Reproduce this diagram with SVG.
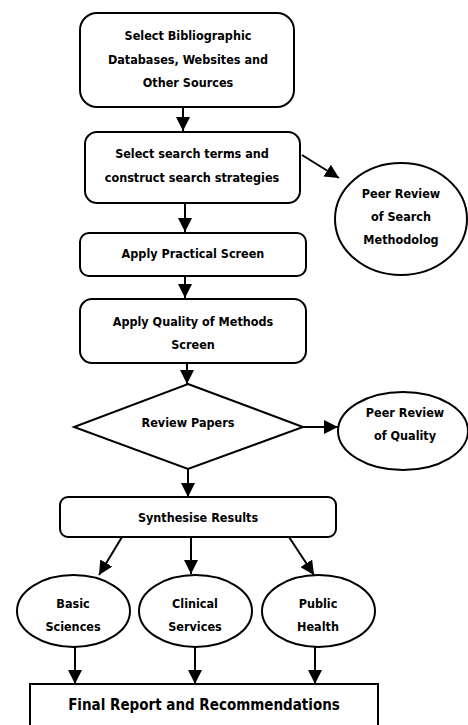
<svg xmlns="http://www.w3.org/2000/svg" width="468" height="725" viewBox="0 0 468 725">
<defs>
<marker id="ah" viewBox="0 0 10 10" refX="10" refY="5" markerWidth="7" markerHeight="7" markerUnits="strokeWidth" orient="auto">
<path d="M0,0 L10,5 L0,10 Z" fill="#000"/>
</marker>
<style>
.s{fill:#fff;stroke:#000;stroke-width:2}
.t{font-family:"DejaVu Sans Condensed","DejaVu Sans",sans-serif;font-weight:bold;font-size:12.5px;text-anchor:middle;fill:#000}
.f{font-family:"DejaVu Sans Condensed","DejaVu Sans",sans-serif;font-weight:bold;font-size:15px;text-anchor:middle;fill:#000}
.c{fill:none;stroke:#000;stroke-width:2;marker-end:url(#ah)}
</style>
</defs>
<rect width="468" height="725" fill="#fff"/>
<g id="connectors">
<line class="c" x1="183" y1="107" x2="183" y2="131"/>
<line class="c" x1="302" y1="155" x2="339" y2="178"/>
<line class="c" x1="185" y1="203" x2="185" y2="232"/>
<line class="c" x1="185" y1="276" x2="185" y2="298"/>
<line class="c" x1="187" y1="363" x2="187" y2="384"/>
<line class="c" x1="303" y1="427" x2="338" y2="427"/>
<line class="c" x1="188" y1="469" x2="188" y2="497"/>
<line class="c" x1="122" y1="537" x2="99" y2="575"/>
<line class="c" x1="191" y1="537" x2="191" y2="574"/>
<line class="c" x1="289" y1="537" x2="314" y2="575"/>
<line class="c" x1="75" y1="647" x2="75" y2="684"/>
<line class="c" x1="195" y1="647" x2="195" y2="684"/>
<line class="c" x1="315" y1="647" x2="315" y2="684"/>
</g>
<g id="n1">
<rect class="s" x="80" y="13" width="214" height="94" rx="17"/>
<text class="t" x="188" y="40">Select Bibliographic</text>
<text class="t" x="188" y="64">Databases, Websites and</text>
<text class="t" x="188" y="87">Other Sources</text>
</g>
<g id="n2">
<rect class="s" x="85" y="132" width="215" height="71" rx="12"/>
<text class="t" x="192" y="158">Select search terms and</text>
<text class="t" x="192" y="182">construct search strategies</text>
</g>
<g id="n3">
<ellipse class="s" cx="401" cy="219" rx="66" ry="56"/>
<text class="t" x="401" y="198">Peer Review</text>
<text class="t" x="401" y="221">of Search</text>
<text class="t" x="401" y="244">Methodolog</text>
</g>
<g id="n4">
<rect class="s" x="80" y="233" width="226" height="43" rx="9"/>
<text class="t" x="193" y="258">Apply Practical Screen</text>
</g>
<g id="n5">
<rect class="s" x="80" y="299" width="226" height="64" rx="12"/>
<text class="t" x="193" y="326">Apply Quality of Methods</text>
<text class="t" x="193" y="349">Screen</text>
</g>
<g id="n6">
<polygon class="s" points="188,384 303,427 188,469 74,427"/>
<text class="t" x="188" y="427">Review Papers</text>
</g>
<g id="n7">
<ellipse class="s" cx="403" cy="431" rx="65" ry="39"/>
<text class="t" x="405" y="417">Peer Review</text>
<text class="t" x="405" y="440">of Quality</text>
</g>
<g id="n8">
<rect class="s" x="60" y="497" width="276" height="40" rx="8"/>
<text class="t" x="198" y="522">Synthesise Results</text>
</g>
<g id="n9">
<ellipse class="s" cx="73.5" cy="611" rx="56.5" ry="36"/>
<text class="t" x="73" y="608">Basic</text>
<text class="t" x="73" y="631">Sciences</text>
</g>
<g id="n10">
<ellipse class="s" cx="195.5" cy="611" rx="56.5" ry="36"/>
<text class="t" x="195" y="608">Clinical</text>
<text class="t" x="195" y="631">Services</text>
</g>
<g id="n11">
<ellipse class="s" cx="318.5" cy="611" rx="56.5" ry="36"/>
<text class="t" x="318" y="608">Public</text>
<text class="t" x="318" y="631">Health</text>
</g>
<g id="n12">
<rect class="s" x="30" y="684" width="348" height="50"/>
<text class="f" x="204" y="710">Final Report and Recommendations</text>
</g>
</svg>
